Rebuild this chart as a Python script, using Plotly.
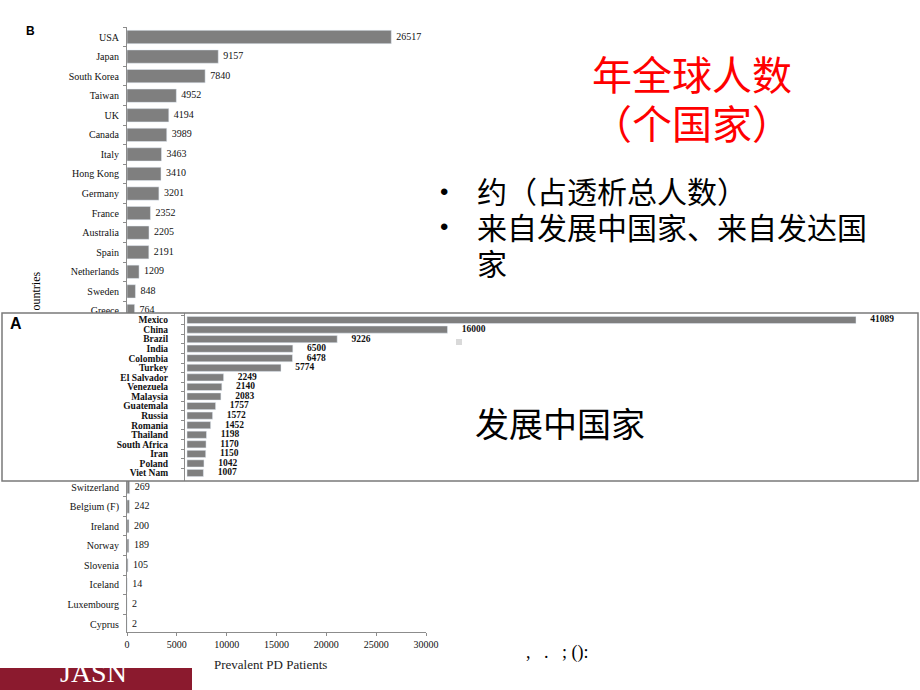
import plotly.graph_objects as go

# ---------------- data ----------------
# Panel B (developed countries) – rows 15..22 are hidden behind the panel-A inset (estimated)
dev_countries = ["USA", "Japan", "South Korea", "Taiwan", "UK", "Canada", "Italy", "Hong Kong",
                 "Germany", "France", "Australia", "Spain", "Netherlands", "Sweden", "Greece",
                 "Denmark", "Portugal", "Finland", "Austria", "Israel", "Belgium (D)", "Croatia",
                 "Scotland", "Switzerland", "Belgium (F)", "Ireland", "Norway", "Slovenia",
                 "Iceland", "Luxembourg", "Cyprus"]
dev_values = [26517, 9157, 7840, 4952, 4194, 3989, 3463, 3410, 3201, 2352, 2205, 2191, 1209, 848,
              764, 690, 650, 600, 450, 420, 360, 300, 280, 269, 242, 200, 189, 105, 14, 2, 2]

# Panel A (developing countries)
dvl_countries = ["Mexico", "China", "Brazil", "India", "Colombia", "Turkey", "El Salvador",
                 "Venezuela", "Malaysia", "Guatemala", "Russia", "Romania", "Thailand",
                 "South Africa", "Iran", "Poland", "Viet Nam"]
dvl_values = [41089, 16000, 9226, 6500, 6478, 5774, 2249, 2140, 2083, 1757, 1572, 1452, 1198,
              1170, 1150, 1042, 1007]

x_ticks = [0, 5000, 10000, 15000, 20000, 25000, 30000]

title_lines = ["年全球人数", "（个国家）"]
bullet_lines = ["约（占透析总人数）", "来自发展中国家、来自发达国", "家"]
inset_text = "发展中国家"
x_title = "Prevalent PD Patients"

W, H = 920, 690
def px(x): return x / W
def py(y): return 1 - y / H

BAR = "#7f7f7f"
AX = "#8c8c8c"
SERIF = "Liberation Serif, Times New Roman, serif"
CJK = "Noto Sans CJK SC"

fig = go.Figure()

# Panel B
fig.add_trace(go.Bar(x=dev_values, y=dev_countries, orientation="h", marker_color=BAR,
                     width=0.68, xaxis="x", yaxis="y", hoverinfo="skip"))
fig.add_trace(go.Scatter(x=dev_values, y=dev_countries, mode="text",
                         text=["\u00a0\u00a0" + str(v) for v in dev_values],
                         textposition="middle right", cliponaxis=False,
                         textfont=dict(family=SERIF, size=10, color="#111"),
                         xaxis="x", yaxis="y", hoverinfo="skip"))

# Panel A (inset)
fig.add_trace(go.Bar(x=dvl_values, y=dvl_countries, orientation="h", marker_color=BAR,
                     width=0.75, xaxis="x2", yaxis="y2", hoverinfo="skip"))
fig.add_trace(go.Scatter(x=dvl_values, y=dvl_countries, mode="text",
                         text=["\u00a0" * 6 + str(v) for v in dvl_values],
                         textposition="middle right", cliponaxis=False,
                         textfont=dict(family=SERIF, size=9.5, color="#111", weight="bold"),
                         xaxis="x2", yaxis="y2", hoverinfo="skip"))

# axis geometry
sB = (624 - 37) / 30
yB_range = [(632 - 37) / sB, (27 - 37) / sB]
sA = (473 - 320) / 16
yA_range = [(481 - 320) / sA, (313 - 320) / sA]
kA = (856 - 187) / dvl_values[0]
xA_range = [(2 - 187) / kA, (918 - 187) / kA]

fig.update_layout(
    width=W, height=H, margin=dict(l=0, r=0, t=0, b=0, autoexpand=False),
    paper_bgcolor="white", plot_bgcolor="white", showlegend=False,
    xaxis=dict(domain=[px(127), px(426)], range=[0, 30000], tickvals=x_ticks, tickformat="d",
               automargin=False,
               showgrid=False, zeroline=False, showline=True, linecolor=AX, linewidth=1,
               ticks="outside", ticklen=3, tickcolor=AX,
               tickfont=dict(family=SERIF, size=10, color="#111"), anchor="y"),
    yaxis=dict(domain=[py(632), py(27)], type="category", categoryorder="array",
               categoryarray=dev_countries, range=yB_range, showgrid=False, zeroline=False,
               tickmode="linear", dtick=1, automargin=False,
               showline=True, linecolor=AX, linewidth=1, ticks="outside", ticklen=3,
               tickcolor=AX, tickson="boundaries", ticklabelstandoff=5,
               tickfont=dict(family=SERIF, size=10, color="#111"), anchor="x"),
    xaxis2=dict(domain=[px(2), px(918)], range=xA_range, visible=False, anchor="y2",
                automargin=False),
    yaxis2=dict(domain=[py(481), py(313)], type="category", categoryorder="array",
                categoryarray=dvl_countries, range=yA_range, showgrid=False, zeroline=False,
                tickmode="linear", dtick=1, automargin=False,
                showline=True, linecolor=AX, linewidth=1, ticks="outside", ticklen=3,
                tickcolor=AX, tickson="boundaries", anchor="free", position=px(184),
                ticklabelstandoff=14,
                tickfont=dict(family=SERIF, size=9.5, color="#111", weight="bold")),
)

shapes = [
    dict(type="rect", xref="paper", yref="paper", x0=px(2), x1=px(918), y0=py(481), y1=py(313),
         line=dict(color="#7a7a7a", width=1.5), fillcolor="rgba(0,0,0,0)", layer="above"),
    dict(type="rect", xref="paper", yref="paper", x0=px(456), x1=px(462), y0=py(345), y1=py(339),
         line=dict(width=0), fillcolor="#d9d9d9", layer="above"),
    dict(type="rect", xref="paper", yref="paper", x0=0, x1=px(192), y0=0, y1=py(668),
         line=dict(width=0), fillcolor="#8b1a2e", layer="above"),
]
fig.update_layout(shapes=shapes)

ann = []
def A(text, x, y, size, color="black", family=CJK, xanchor="center", yanchor="middle", **kw):
    ann.append(dict(text=text, x=px(x), y=py(y), xref="paper", yref="paper", showarrow=False,
                    xanchor=xanchor, yanchor=yanchor,
                    font=dict(family=family, size=size, color=color), **kw))

A("<b>B</b>", 30, 31, 12, family="Liberation Sans, Arial, sans-serif")
A("<b>A</b>", 16, 323, 16, family="Liberation Sans, Arial, sans-serif")
A("ountries", 35, 313, 12, family=SERIF, yanchor="bottom", textangle=-90)
A(x_title, 270, 664, 13, family=SERIF, color="#222")

A(title_lines[0], 692, 73, 40, color="#ff0000")
A(title_lines[1], 692, 122, 40, color="#ff0000")

A("•", 444, 192, 24, family="Liberation Sans, Arial, sans-serif")
A("•", 444, 227, 24, family="Liberation Sans, Arial, sans-serif")
A(bullet_lines[0], 475, 190, 30, xanchor="left")
A(bullet_lines[1], 475, 226, 30, xanchor="left")
A(bullet_lines[2], 475, 262, 30, xanchor="left")

A(inset_text, 473, 422, 34, xanchor="left")

A(",\u00a0\u00a0\u00a0.\u00a0\u00a0\u00a0;\u00a0():", 524, 652, 18, family=SERIF, xanchor="left")
A("JASN", 93, 690, 28, color="white", family=SERIF, yanchor="bottom")

fig.update_layout(annotations=ann)
fig.write_html("out.html")
